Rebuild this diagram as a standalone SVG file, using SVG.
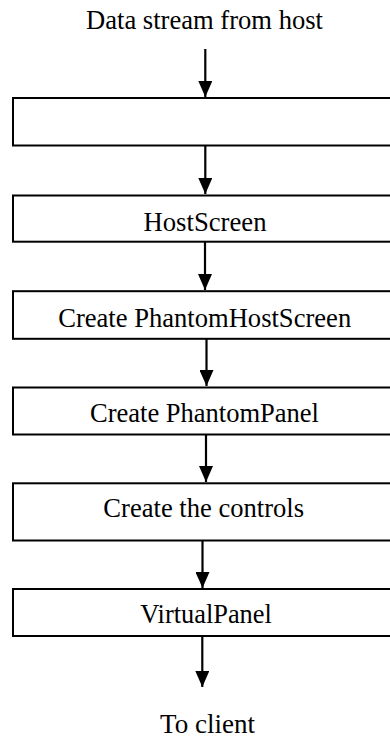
<svg xmlns="http://www.w3.org/2000/svg" width="390" height="738" viewBox="0 0 390 738">
<defs>
<style>
.box{fill:#fff;stroke:#000;stroke-width:2}
.lbl{font-family:'Liberation Serif','Times New Roman',serif;font-size:27px;fill:#000;text-anchor:middle}
.conn{stroke:#000;stroke-width:2.2;fill:none;marker-end:url(#ah)}
</style>
<marker id="ah" markerUnits="userSpaceOnUse" viewBox="0 0 16 14" refX="16" refY="7" markerWidth="16" markerHeight="14" orient="auto">
<path d="M0,0 L16,7 L0,14 Z" fill="#000"/>
</marker>
</defs>
<rect width="390" height="738" fill="#fff"/>
<text class="lbl" x="204.5" y="28.5" textLength="237" lengthAdjust="spacingAndGlyphs">Data stream from host</text>
<text class="lbl" x="207.5" y="733" textLength="95" lengthAdjust="spacingAndGlyphs">To client</text>
<g id="connectors">
<line class="conn" x1="205.3" y1="49" x2="205.3" y2="97"/>
<line class="conn" x1="205.3" y1="146" x2="205.3" y2="194"/>
<line class="conn" x1="205" y1="242" x2="205" y2="290"/>
<line class="conn" x1="206.5" y1="339" x2="206.5" y2="386"/>
<line class="conn" x1="206" y1="435" x2="206" y2="482"/>
<line class="conn" x1="202.5" y1="541" x2="202.5" y2="588"/>
<line class="conn" x1="202.3" y1="637" x2="202.3" y2="687"/>
</g>
<g id="node1"><rect class="box" x="13" y="98" width="390" height="47.5"/></g>
<g id="node2"><rect class="box" x="13" y="195.5" width="390" height="46.2"/>
<text class="lbl" x="205" y="230.5" textLength="123" lengthAdjust="spacingAndGlyphs">HostScreen</text></g>
<g id="node3"><rect class="box" x="13" y="291.2" width="390" height="47.6"/>
<text class="lbl" x="204.7" y="326.7" textLength="293" lengthAdjust="spacingAndGlyphs">Create PhantomHostScreen</text></g>
<g id="node4"><rect class="box" x="13" y="387.5" width="390" height="47"/>
<text class="lbl" x="204.5" y="422.3" textLength="229" lengthAdjust="spacingAndGlyphs">Create PhantomPanel</text></g>
<g id="node5"><rect class="box" x="13" y="483.3" width="390" height="57.2"/>
<text class="lbl" x="203.7" y="517.3" textLength="200.7" lengthAdjust="spacingAndGlyphs">Create the controls</text></g>
<g id="node6"><rect class="box" x="13" y="589" width="390" height="47"/>
<text class="lbl" x="206" y="623.3" textLength="131.7" lengthAdjust="spacingAndGlyphs">VirtualPanel</text></g>
</svg>
